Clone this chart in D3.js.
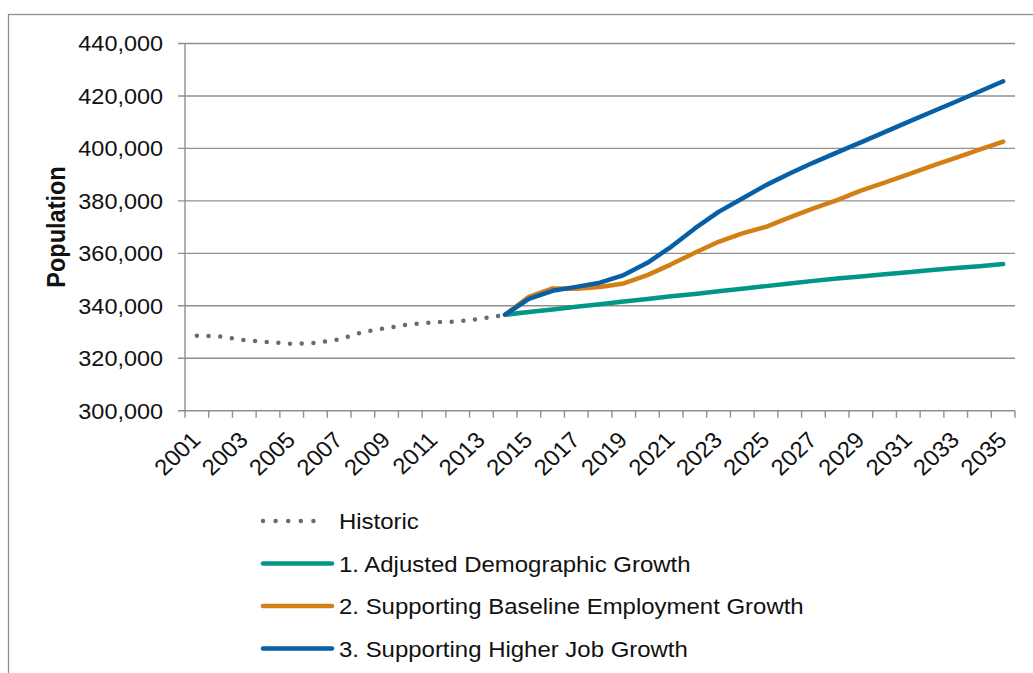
<!DOCTYPE html>
<meta charset="utf-8">
<style>
  body { margin: 0; background: #fff; }
  svg { font-family: "Liberation Sans", Arial, sans-serif; }
</style>
<svg width="1033" height="673"></svg>
<script src="https://d3js.org/d3.v7.min.js"></script>
<script>

// historic population, 2001 - 2014
var histYears = d3.range(2001, 2015);
var historic = [328600, 328300, 326900, 326200, 325500, 325800, 327200,
                330000, 331500, 333000, 333700, 334000, 335100, 336600];

// projections, 2014 - 2035
var projYears = d3.range(2014, 2036);
var demographic = [336600, 337600, 338600, 339600, 340600, 341600, 342600,
                   343600, 344500, 345500, 346500, 347500, 348500, 349500,
                   350400, 351200, 352000, 352800, 353600, 354400, 355100, 355900];
var baseline = [336600, 343400, 346600, 346500, 347200, 348500, 351700,
                355800, 360200, 364400, 367600, 370100, 373700, 377100,
                380300, 383900, 387000, 390100, 393300, 396400, 399500, 402600];
var higher = [336600, 342600, 345700, 347200, 348800, 351700, 356400,
              362500, 369500, 375800, 380900, 386000, 390400, 394600,
              398500, 402300, 406200, 410100, 414000, 417800, 421700, 425600];

var allYears = d3.range(2001, 2036);
var yTicks = [300000, 320000, 340000, 360000, 380000, 400000, 420000, 440000];

var seriesNames = ["Historic",
                   "1. Adjusted Demographic Growth",
                   "2. Supporting Baseline Employment Growth",
                   "3. Supporting Higher Job Growth"];
var seriesColors = ["#5e6d79", "#00968a", "#d47f14", "#075fa6"];

var stretch = 1.065; // the original text is a little wide

var svg = d3.select("svg");

// outer frame (cut off at the right and bottom like the original)
svg.append("rect")
    .attr("x", 8.5).attr("y", 14.5)
    .attr("width", 1100).attr("height", 800)
    .attr("fill", "none")
    .attr("stroke", "#8f8f8f")
    .attr("stroke-width", 1.3);

var x = d3.scaleBand()
    .domain(allYears)
    .range([185, 1015]);

var y = d3.scaleLinear()
    .domain([300000, 440000])
    .range([410.7, 43.5]);

var cx = function(yr) { return x(yr) + x.bandwidth() / 2; };

// gridlines
svg.append("g")
  .selectAll("line")
  .data(yTicks)
  .enter().append("line")
    .attr("x1", 178).attr("x2", 1015)
    .attr("y1", function(d) { return y(d); })
    .attr("y2", function(d) { return y(d); })
    .attr("stroke", "#8f8f8f")
    .attr("stroke-width", 1.4);

// y axis line
svg.append("line")
    .attr("x1", 185).attr("x2", 185)
    .attr("y1", y(440000)).attr("y2", y(300000))
    .attr("stroke", "#8f8f8f")
    .attr("stroke-width", 1.4);

var fmt = d3.format(",");
svg.append("g")
  .selectAll("text")
  .data(yTicks)
  .enter().append("text")
    .attr("transform", function(d) { return "translate(163," + y(d) + ") scale(" + stretch + ",1)"; })
    .attr("dy", "0.36em")
    .attr("text-anchor", "end")
    .attr("font-size", 22)
    .attr("fill", "#111")
    .text(function(d) { return fmt(d); });

// x axis ticks at band edges
var edges = allYears.map(function(d) { return x(d); }).concat([x.range()[1]]);
svg.append("g")
  .selectAll("line")
  .data(edges)
  .enter().append("line")
    .attr("x1", function(d) { return d; })
    .attr("x2", function(d) { return d; })
    .attr("y1", y(300000)).attr("y2", y(300000) + 7)
    .attr("stroke", "#8f8f8f")
    .attr("stroke-width", 1.4);

svg.append("g")
  .selectAll("text")
  .data(allYears.filter(function(d) { return d % 2 === 1; }))
  .enter().append("text")
    .attr("transform", function(d) {
      return "translate(" + (cx(d) - 7) + ",430) scale(" + stretch + ",1) rotate(-45)";
    })
    .attr("dy", "0.71em")
    .attr("text-anchor", "end")
    .attr("font-size", 22.5)
    .attr("fill", "#111")
    .text(function(d) { return d; });

// y axis title
svg.append("text")
    .attr("transform", "translate(65,227) scale(" + stretch + ",1) rotate(-90)")
    .attr("text-anchor", "middle")
    .attr("font-size", 23.5)
    .attr("font-weight", "bold")
    .attr("fill", "#111")
    .text("Population");

var line = d3.line()
    .x(function(d) { return cx(d[0]); })
    .y(function(d) { return y(d[1]); });

function pairs(years, vals) {
  return years.map(function(yr, i) { return [yr, vals[i]]; });
}

var proj = [demographic, baseline, higher];
proj.forEach(function(vals, i) {
  svg.append("path")
      .datum(pairs(projYears, vals))
      .attr("d", line)
      .attr("fill", "none")
      .attr("stroke", seriesColors[i + 1])
      .attr("stroke-width", 4.5)
      .attr("stroke-linecap", "round")
      .attr("stroke-linejoin", "round");
});

svg.append("path")
    .datum(pairs(histYears, historic))
    .attr("d", line)
    .attr("fill", "none")
    .attr("stroke", seriesColors[0])
    .attr("stroke-width", 4.5)
    .attr("stroke-linecap", "round")
    .attr("stroke-dasharray", "0,11.7");

// legend
var legend = svg.selectAll(".legend")
  .data(seriesNames)
  .enter().append("g")
    .attr("class", "legend")
    .attr("transform", function(d, i) { return "translate(0," + (521 + 42.5 * i) + ")"; });

legend.append("line")
    .attr("x1", 263).attr("x2", function(d, i) { return i === 0 ? 326 : 332; })
    .attr("y1", 0).attr("y2", 0)
    .attr("stroke", function(d, i) { return seriesColors[i]; })
    .attr("stroke-width", 4.5)
    .attr("stroke-linecap", "round")
    .attr("stroke-dasharray", function(d, i) { return i === 0 ? "0,12.6" : null; });

legend.append("text")
    .attr("transform", "translate(339,0) scale(" + stretch + ",1)")
    .attr("dy", "0.36em")
    .attr("font-size", 22.5)
    .attr("fill", "#111")
    .text(function(d) { return d; });

</script>
